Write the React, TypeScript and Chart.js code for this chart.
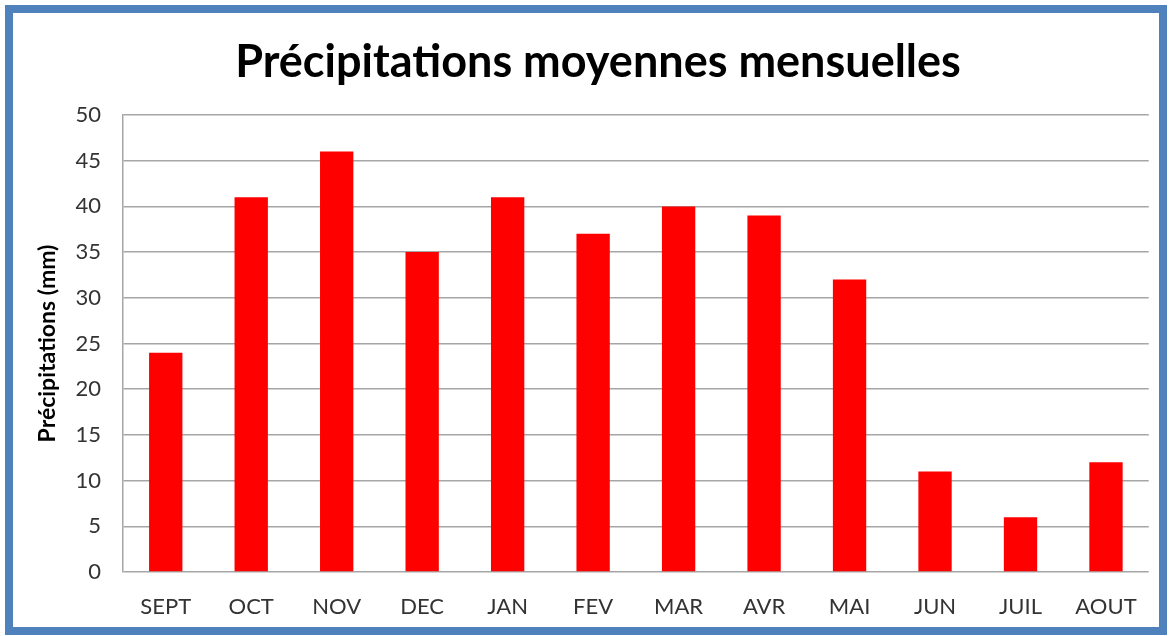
import React, { useEffect, useRef } from "react";
import { Chart, registerables } from "chart.js";

Chart.register(...registerables);

const months = ["SEPT", "OCT", "NOV", "DEC", "JAN", "FEV", "MAR", "AVR", "MAI", "JUN", "JUIL", "AOUT"];
const precipitation = [24, 41, 46, 35, 41, 37, 40, 39, 32, 11, 6, 12];
const chartTitle = "Précipitations moyennes mensuelles";
const yAxisTitle = "Précipitations (mm)";
const yMin = 0;
const yMax = 50;
const yStep = 5;

export default function App() {
  const canvasRef = useRef<HTMLCanvasElement | null>(null);

  useEffect(() => {
    document.body.style.margin = "0";
    const ctx = canvasRef.current;
    if (!ctx) return;
    const chart = new Chart(ctx, {
      type: "bar",
      data: {
        labels: months,
        datasets: [
          {
            data: precipitation,
            backgroundColor: "#ff0000",
            borderWidth: 0,
            barPercentage: 0.39,
            categoryPercentage: 1,
          },
        ],
      },
      options: {
        responsive: false,
        animation: false,
        layout: { padding: { left: 33, right: 9, top: 0, bottom: 0 } },
        plugins: {
          legend: { display: false },
          tooltip: { enabled: false },
          title: {
            display: true,
            text: chartTitle,
            color: "#000000",
            font: { family: "Lato", size: 45, weight: "bold", lineHeight: 1.2 },
            padding: { top: 22, bottom: 26 },
          },
        },
        scales: {
          x: {
            grid: { display: false, drawTicks: false },
            border: { display: false },
            ticks: {
              color: "#333333",
              font: { family: "Lato", size: 22 },
              padding: 22,
              maxRotation: 0,
              autoSkip: false,
            },
            afterFit: (scale: any) => {
              scale.height = 55;
            },
          },
          y: {
            min: yMin,
            max: yMax,
            grid: { color: "#a6a6a6", lineWidth: 1.5, drawTicks: false },
            border: { display: true, color: "#a6a6a6", width: 1.5 },
            ticks: {
              stepSize: yStep,
              color: "#333333",
              font: { family: "Lato", size: 22 },
              padding: 22,
            },
            title: {
              display: true,
              text: yAxisTitle,
              color: "#000000",
              font: { family: "Lato", size: 23, weight: "bold", lineHeight: 1.2 },
              padding: { top: -12, bottom: 0 },
            },
            afterFit: (scale: any) => {
              scale.width = 77;
            },
          },
        },
      },
    });
    return () => chart.destroy();
  }, []);

  return (
    <div
      style={{
        position: "absolute",
        left: 5,
        top: 5,
        width: 1162,
        height: 630,
        boxSizing: "border-box",
        border: "8px solid #4f81bd",
        background: "#ffffff",
      }}
    >
      <canvas ref={canvasRef} width={1146} height={614} style={{ display: "block" }} />
    </div>
  );
}
